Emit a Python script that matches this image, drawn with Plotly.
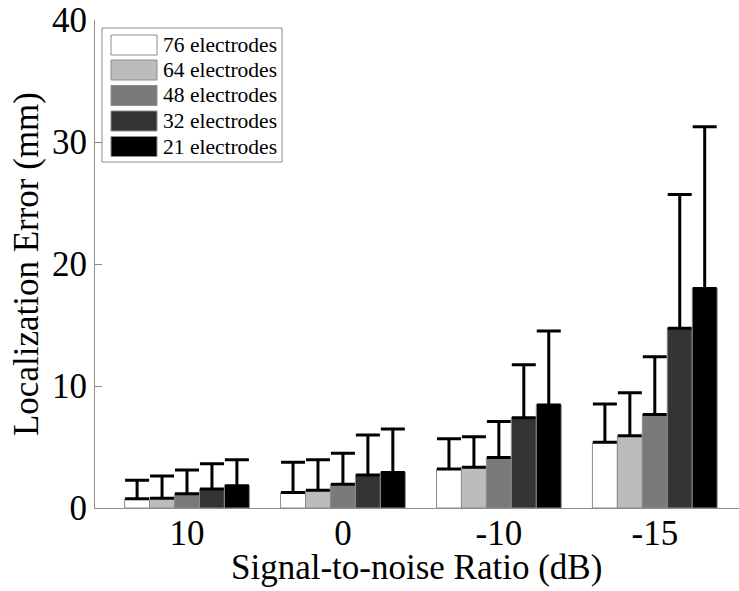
import plotly.graph_objects as go

# ---- data ----
snr_labels = ["10", "0", "-10", "-15"]
series_names = ["76 electrodes", "64 electrodes", "48 electrodes", "32 electrodes", "21 electrodes"]
mean_76 = [0.75, 1.28, 3.20, 5.38]
mean_64 = [0.79, 1.45, 3.33, 5.93]
mean_48 = [1.17, 1.94, 4.13, 7.66]
mean_32 = [1.56, 2.70, 7.40, 14.73]
mean_21 = [1.83, 2.92, 8.44, 18.00]
upper_76 = [2.27, 3.74, 5.68, 8.52]
upper_64 = [2.62, 3.96, 5.85, 9.45]
upper_48 = [3.11, 4.48, 7.10, 12.40]
upper_32 = [3.63, 5.98, 11.75, 25.70]
upper_21 = [3.96, 6.48, 14.50, 31.25]
x_title = "Signal-to-noise Ratio (dB)"
y_title = "Localization Error (mm)"

means = [mean_76, mean_64, mean_48, mean_32, mean_21]
uppers = [upper_76, upper_64, upper_48, upper_32, upper_21]
colors = ["#ffffff", "#bcbcbc", "#7a7a7a", "#343434", "#000000"]

FONT = "Liberation Serif, Times New Roman, serif"

fig = go.Figure()
for name, m, u, c in zip(series_names, means, uppers, colors):
    fig.add_trace(go.Bar(
        x=snr_labels, y=m, name=name,
        marker=dict(color=c, line=dict(color="#8c8c8c", width=1)),
        error_y=dict(type="data", symmetric=False,
                     array=[uu - mm for uu, mm in zip(u, m)],
                     arrayminus=[0] * len(m),
                     color="black", thickness=3, width=12),
        showlegend=False,
    ))

W, H = 739, 591
ml, mr, mt, mb = 95, 0, 20, 83
pw, ph = W - ml - mr, H - mt - mb

def px(x):
    return (x - ml) / pw

def py(y):
    return (H - mb - y) / ph

shapes = []
annotations = []
# legend box
shapes.append(dict(type="rect", xref="paper", yref="paper",
                   x0=px(102), x1=px(282), y0=py(162), y1=py(28),
                   line=dict(color="#8c8c8c", width=1), fillcolor="white"))
row_y = [45, 70, 95.5, 121, 146.5]
for name, c, ry in zip(series_names, colors, row_y):
    shapes.append(dict(type="rect", xref="paper", yref="paper",
                       x0=px(111), x1=px(157), y0=py(ry + 10), y1=py(ry - 10),
                       line=dict(color="#8c8c8c", width=1), fillcolor=c))
    annotations.append(dict(xref="paper", yref="paper", x=px(161), y=py(ry),
                            text=name, showarrow=False, xanchor="left", yanchor="middle",
                            font=dict(family=FONT, size=21.5, color="black")))
# x-axis title
annotations.append(dict(xref="paper", yref="paper", x=px(416), y=py(567),
                        text=x_title, showarrow=False, xanchor="center", yanchor="middle",
                        font=dict(family=FONT, size=35, color="black")))

fig.update_layout(
    width=W, height=H,
    margin=dict(l=ml, r=mr, t=mt, b=mb),
    paper_bgcolor="white", plot_bgcolor="white",
    barmode="group", bargap=0.2, bargroupgap=0,
    font=dict(family=FONT, color="black"),
    shapes=shapes, annotations=annotations,
    xaxis=dict(range=[-0.59, 3.54], showline=True, linecolor="#8c8c8c", linewidth=1,
               ticks="", showgrid=False, zeroline=False, ticklabelstandoff=-6,
               tickfont=dict(family=FONT, size=35, color="black")),
    yaxis=dict(range=[0, 40], tickvals=[0, 10, 20, 30, 40], showline=True,
               linecolor="#8c8c8c", linewidth=1, ticks="inside", ticklen=7,
               tickcolor="#8c8c8c", showgrid=False, zeroline=False,
               tickfont=dict(family=FONT, size=35, color="black"),
               title=dict(text=y_title, standoff=2,
                          font=dict(family=FONT, size=35, color="black"))),
)
fig.write_html("out.html")
